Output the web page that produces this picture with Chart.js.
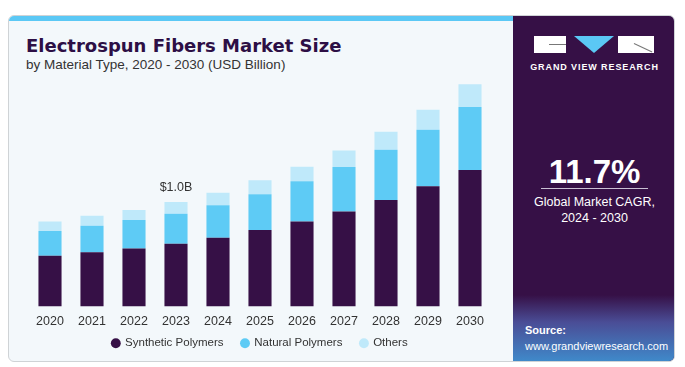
<!DOCTYPE html>
<html>
<head>
<meta charset="utf-8">
<script src="https://cdn.jsdelivr.net/npm/chart.js@4.4.0/dist/chart.umd.min.js"></script>
<style>
  body { margin:0; width:685px; height:367px; background:#fff; font-family:"Liberation Sans", Arial, sans-serif; position:relative; overflow:hidden; }
  #card { position:absolute; left:8px; top:15px; width:667px; height:347px; border:1px solid #cfd3d6; border-radius:6px; box-sizing:border-box; background:#f3f8fb; overflow:hidden; }
  #strip { position:absolute; left:0; top:0; width:504px; height:5px; background:#5bc8f5; }
  #side { position:absolute; left:504px; top:0; width:163px; height:347px; background:#361046; }
  #grad { position:absolute; left:0; bottom:0; width:100%; height:68px; background:linear-gradient(to bottom, #361046 0%, #4a4d96 40%, #3f8ccc 100%); }
  #title { position:absolute; left:17px; top:19px; font-family:"DejaVu Sans", sans-serif; font-size:18px; font-weight:bold; color:#2d0f45; }
  #sub { position:absolute; left:17px; top:41px; font-size:13.5px; color:#333; }
  #chartbox { position:absolute; left:20px; top:56px; width:462px; height:277px; }
  .w { position:absolute; background:#fff; }
  .t { position:absolute; color:#fff; text-align:center; width:163px; left:0; }
</style>
</head>
<body>
<div id="card">
  <div id="strip"></div>
  <div id="title">Electrospun Fibers Market Size</div>
  <div id="sub">by Material Type, 2020 - 2030 (USD Billion)</div>
  <div id="chartbox"><canvas id="chart" width="462" height="277"></canvas></div>
  <div id="side">
    <div class="w" style="left:21px;top:20px;width:32px;height:17px;"></div>
    <div style="position:absolute;left:36px;top:28px;width:17px;height:1px;background:#777;"></div>
    <div style="position:absolute;left:61px;top:20px;width:0;height:0;border-left:20px solid transparent;border-right:20px solid transparent;border-top:17px solid #5bc8f5;"></div>
    <div class="w" style="left:105px;top:20px;width:36px;height:17px;"></div>
    <div style="position:absolute;left:121px;top:27px;width:20px;height:1px;background:#777;transform:rotate(25deg);transform-origin:left;"></div>
    <div class="t" style="top:46px;font-size:9px;font-weight:bold;letter-spacing:0.9px;">GRAND VIEW RESEARCH</div>
    <div class="t" style="top:137px;font-size:33px;font-weight:bold;">11.7%</div>
    <div style="position:absolute;left:28px;top:172px;width:107px;height:1px;background:#c9bfd3;"></div>
    <div class="t" style="top:178px;font-size:12.5px;line-height:16px;">Global Market CAGR,<br>2024 - 2030</div>
    <div id="grad"></div>
    <div style="position:absolute;left:12px;top:308px;color:#fff;font-size:11px;font-weight:bold;">Source:</div>
    <div style="position:absolute;left:12px;top:324px;color:#fff;font-size:11px;">www.grandviewresearch.com</div>
  </div>
</div>
<script>
const years = ["2020","2021","2022","2023","2024","2025","2026","2027","2028","2029","2030"];
const synthetic = [0.487, 0.519, 0.557, 0.602, 0.659, 0.733, 0.815, 0.910, 1.022, 1.153, 1.308];
const natural   = [0.236, 0.255, 0.271, 0.287, 0.312, 0.344, 0.386, 0.427, 0.480, 0.541, 0.605];
const others    = [0.092, 0.096, 0.098, 0.112, 0.120, 0.134, 0.139, 0.159, 0.172, 0.191, 0.217];
const annotations = [{ index: 3, text: "$1.0B" }];

const labelPlugin = {
  id: 'topLabel',
  afterDatasetsDraw(chart) {
    const ctx = chart.ctx;
    const meta = chart.getDatasetMeta(2);
    ctx.save();
    ctx.font = '12.5px "Liberation Sans", Arial, sans-serif';
    ctx.fillStyle = '#333';
    ctx.textAlign = 'center';
    ctx.textBaseline = 'bottom';
    annotations.forEach(a => {
      const bar = meta.data[a.index];
      ctx.fillText(a.text, bar.x, bar.y - 8);
    });
    ctx.restore();
  }
};

// legend sits closer to the axis labels than its padding would allow
const legendTighten = {
  id: 'legendTighten',
  afterInit(chart) {
    const lg = chart.legend;
    const fit = lg.fit;
    lg.fit = function() {
      fit.call(lg);
      lg.height -= 20;
    };
  },
  afterLayout(chart) {
    const lg = chart.legend;
    lg.top -= 10;
    lg.bottom += 10;
    lg.height += 20;
  }
};

new Chart(document.getElementById('chart'), {
  type: 'bar',
  data: {
    labels: years,
    datasets: [
      { label: 'Synthetic Polymers', data: synthetic, backgroundColor: '#361046' },
      { label: 'Natural Polymers', data: natural, backgroundColor: '#5ecbf5' },
      { label: 'Others', data: others, backgroundColor: '#bfe9fa' }
    ]
  },
  options: {
    responsive: false,
    animation: false,
    maintainAspectRatio: false,
    layout: { padding: { top: 5 } },
    datasets: { bar: { barPercentage: 0.55, categoryPercentage: 1 } },
    scales: {
      x: { stacked: true, grid: { display: false }, border: { display: false },
           ticks: { color: '#333', maxRotation: 0, font: { size: 12.5, family: '"Liberation Sans", Arial, sans-serif' }, padding: 0 } },
      y: { stacked: true, display: false, min: 0, max: 2.2 }
    },
    plugins: {
      legend: { position: 'bottom',
        labels: { usePointStyle: true, pointStyle: 'circle', boxWidth: 7, boxHeight: 7, padding: 18, color: '#333',
                  font: { size: 11.5, family: '"Liberation Sans", Arial, sans-serif' } } },
      tooltip: { enabled: false }
    }
  },
  plugins: [labelPlugin, legendTighten]
});
</script>
</body>
</html>
